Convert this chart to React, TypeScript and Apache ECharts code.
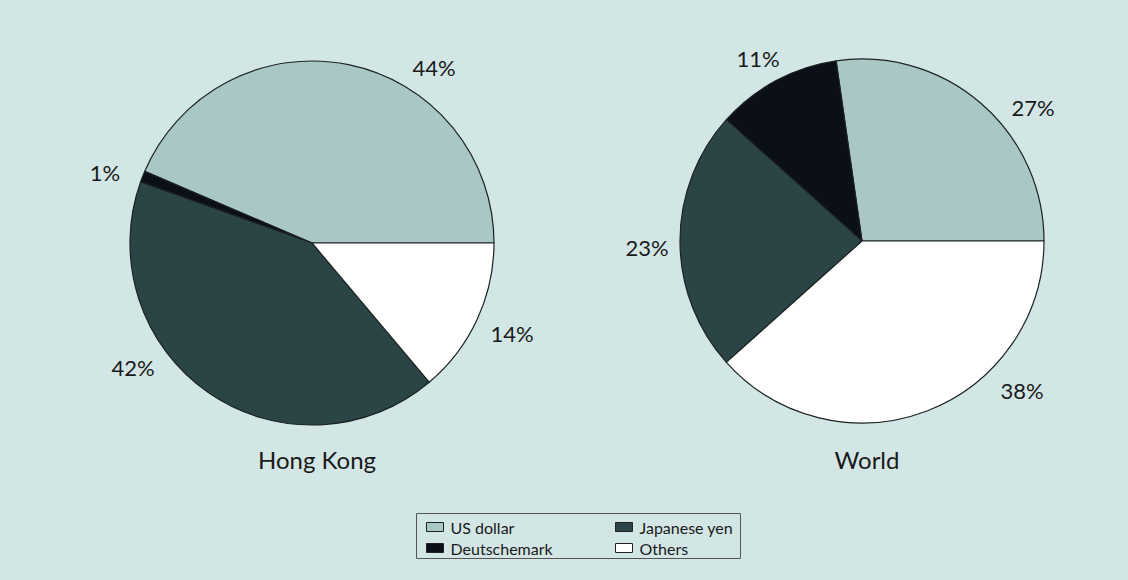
import React, { useEffect, useRef } from "react";
import * as echarts from "echarts";

const categories = ["US dollar", "Deutschemark", "Japanese yen", "Others"];
const hongKongValues = [44, 1, 42, 14];
const worldValues = [27, 11, 23, 38];
const pieTitles = ["Hong Kong", "World"];
const legendLeft = ["US dollar", "Deutschemark"];
const legendRight = ["Japanese yen", "Others"];

const sliceColors = ["#a9c7c5", "#0b0f17", "#2b4546", "#ffffff"];
const BG = "#d2e7e5";
const FONT = "Lato, 'Open Sans', sans-serif";

// label anchor points (layout only) per series, per slice
const labelAnchors = [
  [[434, 67], [105, 172], [133, 367], [512, 333]],
  [[1033, 107], [758, 58], [647, 247], [1022, 390]],
];
const pieCenters = [[312, 243], [862, 241]];

export default function App() {
  const ref = useRef<HTMLDivElement>(null);
  useEffect(() => {
    if (!ref.current) return;
    const chart = echarts.init(ref.current, null, { renderer: "svg" });
    const mkSeries = (name: string, values: number[], idx: number) => ({
      type: "pie",
      name,
      center: pieCenters[idx],
      radius: 182,
      startAngle: 0,
      clockwise: false,
      silent: true,
      data: categories.map((c, i) => ({
        name: c,
        value: values[i],
        itemStyle: { color: sliceColors[i] },
      })),
      itemStyle: { borderColor: "#1c2222", borderWidth: 1.2 },
      label: {
        show: true,
        position: "outside",
        formatter: "{c}%",
        fontFamily: FONT,
        fontSize: 22,
        color: "#1a1a1a",
      },
      labelLine: { show: false },
      labelLayout: (p: any) => {
        const a = labelAnchors[idx][p.dataIndex];
        return { x: a[0], y: a[1], align: "center", verticalAlign: "middle" };
      },
      emphasis: { disabled: true },
    });
    const legendCommon = {
      orient: "vertical",
      top: 519,
      itemWidth: 17,
      itemHeight: 9,
      itemGap: 5,
      icon: "rect",
      selectedMode: false,
      itemStyle: { borderColor: "#222", borderWidth: 1 },
      textStyle: { fontFamily: FONT, fontSize: 16, color: "#1a1a1a", padding: [0, 0, 0, 2] },
      padding: 0,
    };
    chart.setOption({
      animation: false,
      backgroundColor: BG,
      title: pieTitles.map((t, i) => ({
        text: t,
        left: pieCenters[i][0],
        top: 442,
        textAlign: "center",
        textStyle: { fontFamily: FONT, fontSize: 24, fontWeight: "normal", color: "#1a1a1a" },
      })),
      legend: [
        { ...legendCommon, left: 426, data: legendLeft },
        { ...legendCommon, left: 615, data: legendRight },
      ],
      graphic: [
        {
          type: "rect",
          shape: { x: 416.5, y: 513.5, width: 324, height: 45 },
          style: { fill: "none", stroke: "#555", lineWidth: 1 },
          silent: true,
        },
      ],
      series: [mkSeries("Hong Kong", hongKongValues, 0), mkSeries("World", worldValues, 1)],
    });
    return () => chart.dispose();
  }, []);
  return (
    <div
      ref={ref}
      style={{ position: "absolute", left: 0, top: 0, width: 1128, height: 580 }}
    />
  );
}
